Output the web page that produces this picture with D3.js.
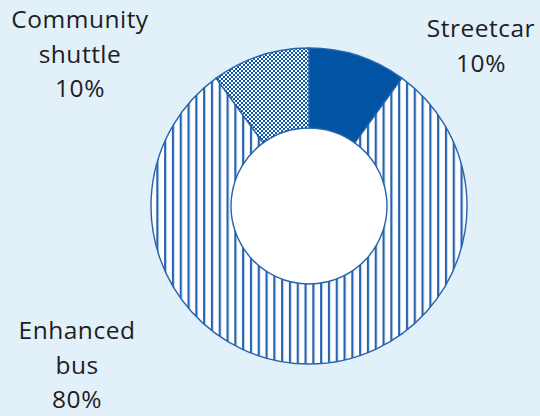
<!DOCTYPE html>
<html>
<head>
<meta charset="utf-8">
<script src="https://cdn.jsdelivr.net/npm/d3@7/dist/d3.min.js"></script>
<style>
  html, body { margin: 0; padding: 0; background: #E2F0FA; }
  svg { display: block; }
  text { font-family: "Open Sans", "DejaVu Sans", sans-serif; fill: #1e1e1e; }
</style>
</head>
<body>
<svg id="chart" width="540" height="416"></svg>
<script>
const categories = ["Streetcar", "Enhanced bus", "Community shuttle"];
const shares = [10, 80, 10];
const labelLines = [["Streetcar", "10%"], ["Enhanced", "bus", "80%"], ["Community", "shuttle", "10%"]];

const W = 540, H = 416;
const cx = 309, cy = 206, R = 158, r = 78;
const svg = d3.select("#chart");
svg.append("rect").attr("width", W).attr("height", H).attr("fill", "#E2F0FA");

const defs = svg.append("defs");
// vertical stripes
const stripes = defs.append("pattern").attr("id", "stripes")
  .attr("patternUnits", "userSpaceOnUse").attr("width", 7.8).attr("height", 10)
  .attr("x", 3.3);
stripes.append("rect").attr("width", 7.8).attr("height", 10).attr("fill", "#fff");
stripes.append("rect").attr("x", 0).attr("width", 2.2).attr("height", 10).attr("fill", "#2563B0");
// checkerboard
const checks = defs.append("pattern").attr("id", "checks")
  .attr("patternUnits", "userSpaceOnUse").attr("width", 4).attr("height", 4);
checks.append("rect").attr("width", 4).attr("height", 4).attr("fill", "#fff");
checks.append("rect").attr("width", 2).attr("height", 2).attr("fill", "#0A56A6");
checks.append("rect").attr("x", 2).attr("y", 2).attr("width", 2).attr("height", 2).attr("fill", "#0A56A6");

const fills = ["#0153A3", "url(#stripes)", "url(#checks)"];

const pie = d3.pie().sort(null).value(d => d);
const arc = d3.arc().innerRadius(r).outerRadius(R);

const g = svg.append("g").attr("transform", `translate(${cx},${cy})`);
g.append("circle").attr("r", r).attr("fill", "#fff");
g.selectAll("path.slice").data(pie(shares)).join("path")
  .attr("class", "slice")
  .attr("d", arc)
  .attr("fill", (d, i) => fills[i])
  .attr("stroke", "#2563B0")
  .attr("stroke-width", 1.4);

// labels
const labelPos = [
  { x: 481, y: 37 },
  { x: 77, y: 339 },
  { x: 80, y: 28 }
];
const lineH = 34.5;
const lab = svg.append("g");
labelLines.forEach((lines, i) => {
  const t = lab.append("text")
    .attr("text-anchor", "middle")
    .attr("font-size", 24.5)
    .attr("letter-spacing", 0.5);
  lines.forEach((ln, j) => {
    t.append("tspan").attr("x", labelPos[i].x).attr("y", labelPos[i].y + j * lineH).text(ln);
  });
});
</script>
</body>
</html>
